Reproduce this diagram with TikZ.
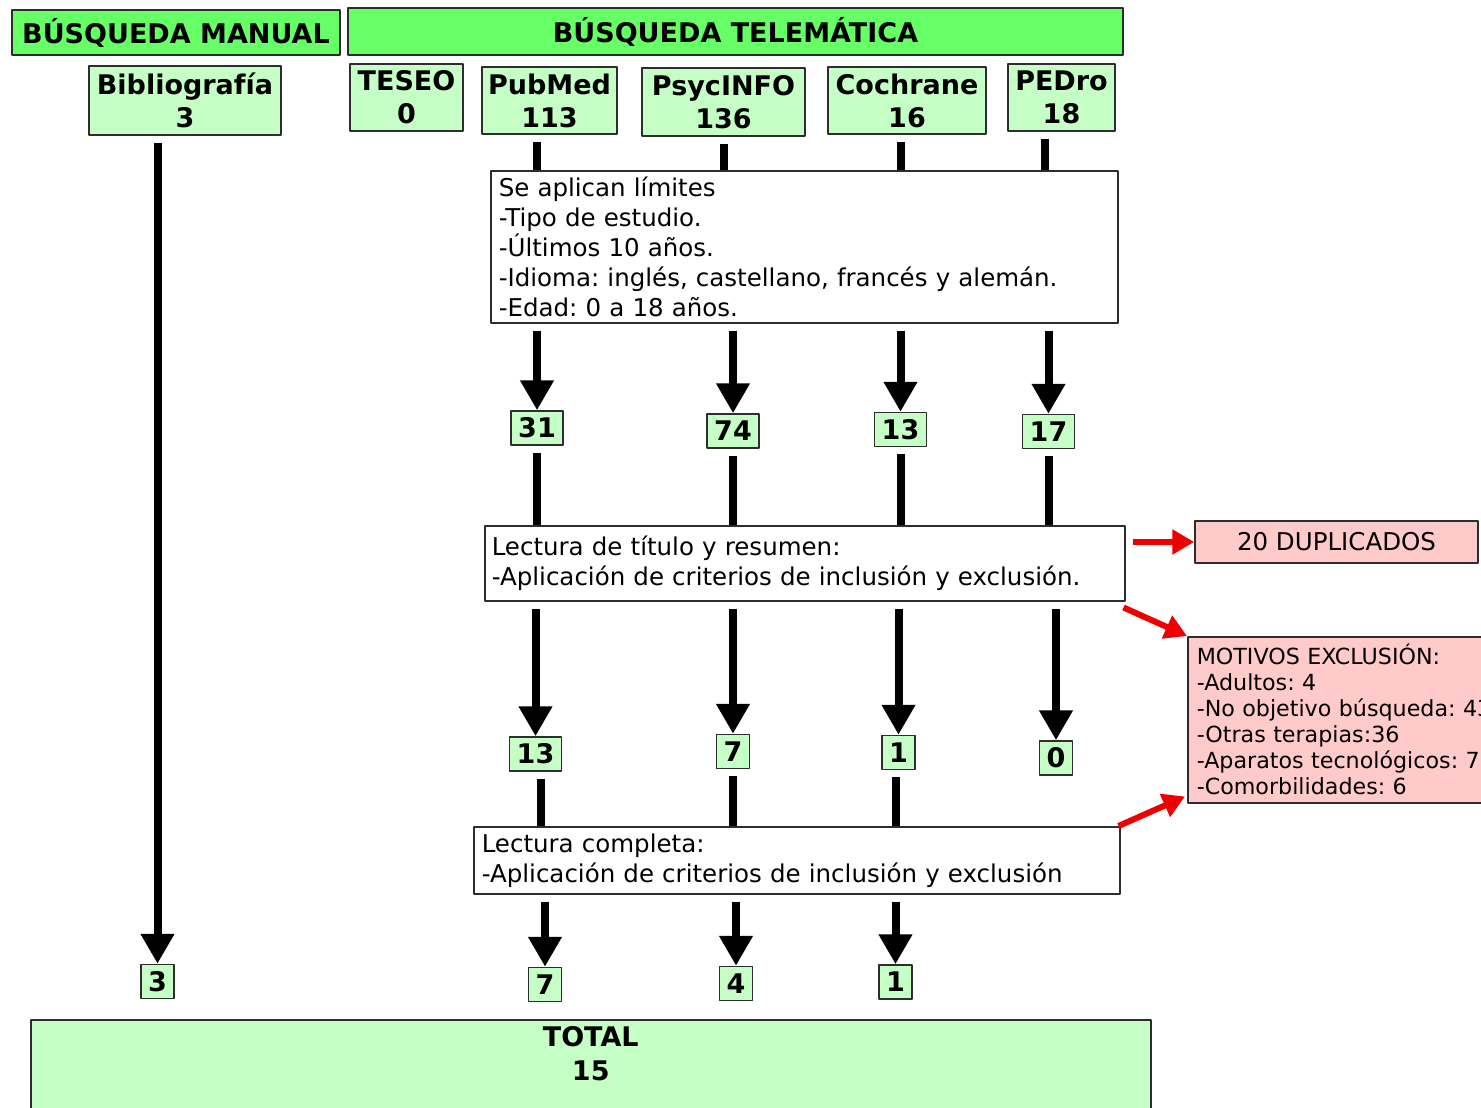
\documentclass[tikz,border=0pt]{standalone}
\usepackage{fontspec}
\setmainfont{DejaVu Sans}
\usetikzlibrary{arrows.meta,positioning}
\definecolor{headgreen}{RGB}{102,255,102}
\definecolor{boxgreen}{RGB}{198,255,198}
\definecolor{boxpink}{RGB}{255,202,202}
\definecolor{edgegray}{RGB}{45,45,45}
\definecolor{arrowred}{RGB}{238,0,0}
\frenchspacing
\begin{document}
\begin{tikzpicture}[x=1pt,y=-1pt,line join=bevel,
  head/.style={draw=edgegray,line width=1.5pt,fill=headgreen,inner sep=0pt,font=\fontsize{27}{33}\selectfont\bfseries},
  source/.style={draw=edgegray,line width=1.5pt,fill=boxgreen,inner sep=0pt,align=center,font=\fontsize{27}{33}\selectfont\bfseries},
  count/.style={draw=edgegray,line width=1.5pt,fill=boxgreen,inner xsep=7pt,inner ysep=0pt,minimum height=34pt,font=\fontsize{27}{33}\selectfont\bfseries},
  stepbox/.style={draw=edgegray,line width=1.5pt,fill=white,anchor=north west,inner xsep=8pt,inner ysep=0pt,align=left,font=\fontsize{24.5}{30}\selectfont},
  exclbox/.style={draw=edgegray,line width=1.5pt,fill=boxpink,inner sep=0pt},
  flow/.style={line width=8pt,shorten <=7pt},
  flowarr/.style={flow,-{Triangle[width=32pt,length=30pt]}},
  redarr/.style={draw=arrowred,line width=6pt,-{Triangle[width=24pt,length=22pt]}}
]
\path[use as bounding box,clip] (0,0) rectangle (1481,1108);
%% headers
\node (manual) at (176,32.5) [head,minimum width=328pt,minimum height=45pt] {BÚSQUEDA MANUAL};
\node (telematic) at (735.5,31.5) [head,minimum width=775pt,minimum height=47pt] {BÚSQUEDA TELEMÁTICA};
%% sources
\node (biblio) at (185,100.5) [source,minimum width=192pt,minimum height=69pt] {Bibliografía\\3};
\node (teseo) at (406.5,97.5) [source,minimum width=113pt,minimum height=67pt] {TESEO\\0};
\node (pubmed) at (549.5,100.5) [source,minimum width=135pt,minimum height=67pt] {PubMed\\113};
\node (psycinfo) at (723.5,102) [source,minimum width=163pt,minimum height=68pt] {PsycINFO\\136};
\node (cochrane) at (907,100.5) [source,minimum width=158pt,minimum height=67pt] {Cochrane\\16};
\node (pedro) at (1061.5,97.5) [source,minimum width=107pt,minimum height=67pt] {PEDro\\18};
%% filter steps
\node (limits) at (490,170) [stepbox,text width=611pt,minimum height=152pt] {Se aplican límites\\-Tipo de estudio.\\-Últimos 10 años.\\-Idioma: inglés, castellano, francés y alemán.\\-Edad: 0 a 18 años.};
\node (title) at (484,525) [stepbox,inner xsep=7pt,text width=626pt,minimum height=75pt] {Lectura de título y resumen:\\-Aplicación de criterios de inclusión y exclusión.};
\node (fulltext) at (473,826) [stepbox,text width=630pt,minimum height=67pt] {Lectura completa:\\-Aplicación de criterios de inclusión y exclusión};
%% counts
\node (n31) at (537,428) [count] {31};
\node (n74) at (733,431) [count] {74};
\node (n13) at (900.5,429.5) [count] {13};
\node (n17) at (1048.5,431.5) [count] {17};
\node (m13) at (535.5,754) [count] {13};
\node (m7) at (733,751.5) [count] {7};
\node (m1) at (898.5,752.5) [count] {1};
\node (m0) at (1056,758) [count] {0};
\node (f3) at (157.5,981.5) [count] {3};
\node (f7) at (545,984.5) [count] {7};
\node (f4) at (736,983.5) [count] {4};
\node (f1) at (895.5,982) [count] {1};
%% exclusions
\node (dup) at (1336.5,542) [exclbox,minimum width=283pt,minimum height=42pt,font=\fontsize{24.5}{30}\selectfont] {20 DUPLICADOS};
\node (motivos) at (1187,636) [exclbox,anchor=north west,inner xsep=9pt,text width=320pt,minimum height=166pt,align=left,font=\fontsize{22.2}{26}\selectfont] {MOTIVOS EXCLUSIÓN:\\-Adultos: 4\\-No objetivo búsqueda: 43\\-Otras terapias:36\\-Aparatos tecnológicos: 7\\-Comorbilidades: 6};
%% total
\node (total) at (30,1019) [source,anchor=north west,minimum width=1120pt,minimum height=110pt,label={[font=\fontsize{27}{34}\selectfont\bfseries,align=center,anchor=north,inner sep=7pt]north:TOTAL\\15}] {};
%% connectors
\draw [flowarr] (biblio.south -| f3) -- (f3);
\draw [flow] (pubmed.south -| n31) -- (limits.north -| n31);
\draw [flow] (psycinfo.south) -- (limits.north -| psycinfo.south);
\draw [flow] (cochrane.south -| n13) -- (limits.north -| n13);
\draw [flow] ([xshift=-4pt]pedro.south -| n17) -- ([xshift=-4pt]limits.north -| n17);
\draw [flowarr] (limits.south -| n31) -- (n31);
\draw [flowarr] (limits.south -| n74) -- (n74);
\draw [flowarr] (limits.south -| n13) -- (n13);
\draw [flowarr] (limits.south -| n17) -- (n17);
\draw [flow] (n31) -- (title.north -| n31);
\draw [flow] (n74) -- (title.north -| n74);
\draw [flow] (n13) -- (title.north -| n13);
\draw [flow] (n17) -- (title.north -| n17);
\draw [flowarr] (title.south -| m13) -- (m13);
\draw [flowarr] (title.south -| m7) -- (m7);
\draw [flowarr] (title.south -| m1) -- (m1);
\draw [flowarr] (title.south -| m0) -- (m0);
\draw [flow] ([xshift=5pt]m13.south) -- ([xshift=5pt]fulltext.north -| m13);
\draw [flow] (m7) -- (fulltext.north -| m7);
\draw [flow] ([xshift=-3pt]m1.south) -- ([xshift=-3pt]fulltext.north -| m1);
\draw [flowarr] (fulltext.south -| f7) -- (f7);
\draw [flowarr] (fulltext.south -| f4) -- (f4);
\draw [flowarr] (fulltext.south -| f1) -- (f1);
\draw [redarr] ([xshift=7pt]title.east |- dup.west) -- (dup.west);
\draw [redarr] ([shift={(-2,6)}]title.south east) -- (motivos.north west);
\draw [redarr] ([xshift=-2pt]fulltext.north east) -- ([shift={(-2,-7)}]motivos.south west);
%
\end{tikzpicture}
\end{document}
